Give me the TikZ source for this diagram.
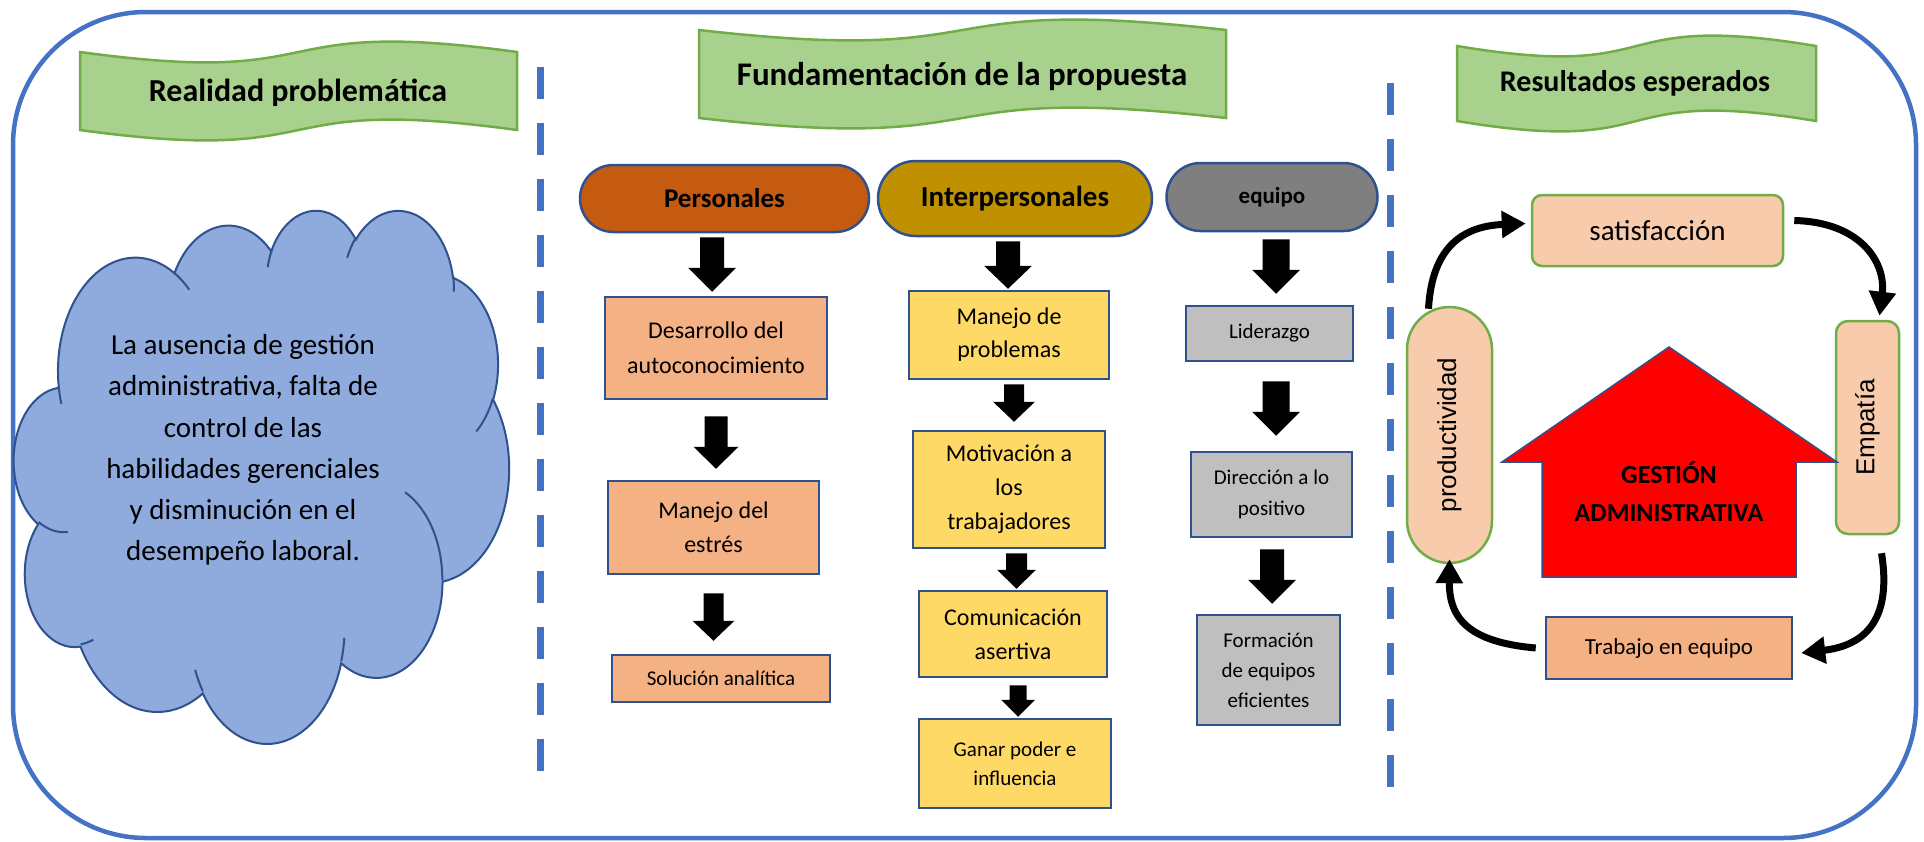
\documentclass[tikz,border=0pt]{standalone}
\usepackage{fontspec}
\usepackage{graphicx}
\setmainfont{Carlito}
\newfontfamily\arialf{Liberation Sans}
\usetikzlibrary{arrows.meta,calc}
\definecolor{frameblue}{HTML}{4472C4}
\definecolor{dkblue}{HTML}{2F528F}
\definecolor{bannerfill}{HTML}{A9D18E}
\definecolor{bannerline}{HTML}{70AD47}
\definecolor{cloudfill}{HTML}{8FAADC}
\definecolor{persfill}{HTML}{C55A11}
\definecolor{interfill}{HTML}{BF9000}
\definecolor{equipofill}{HTML}{7F7F7F}
\definecolor{orangebox}{HTML}{F4B183}
\definecolor{yellowbox}{HTML}{FFD966}
\definecolor{greybox}{HTML}{BFBFBF}
\definecolor{peach}{HTML}{F8CBAD}
\newcommand\fs[2]{\fontsize{#1}{#2}\selectfont}
% Office-style elliptical arc: wR hR stAng swAng (path units /100, y downwards)
\newcommand\carc[4]{arc[start angle={-vang(#3,#1,#2)}, delta angle={-vdel(#3,#4,#1,#2)}, x radius={#1*\cx pt}, y radius={#2*\cy pt}]}
\newcommand\banner[4]{%
  \draw[bannersty] (#1,#3) .. controls ({#1+0.6*(#2-#1)},{#3+36}) and ({#1+0.4*(#2-#1)},{#3-36}) .. (#2,#3)
    -- (#2,#4) .. controls ({#1+0.4*(#2-#1)},{#4-36}) and ({#1+0.6*(#2-#1)},{#4+36}) .. (#1,#4) -- cycle;}
\newcommand\blockarr[5]{%
  \fill let \p1=#1, \p2=#2 in
    ({\x1-#3pt},\y1) -- ({\x1+#3pt},\y1) -- ({\x1+#3pt},{\y2+#5pt}) -- ({\x1+#4pt},{\y2+#5pt})
    -- (\x1,\y2) -- ({\x1-#4pt},{\y2+#5pt}) -- ({\x1-#3pt},{\y2+#5pt}) -- cycle;}
\begin{document}
\begin{tikzpicture}[x=1pt,y=-1pt,
  declare function={
    vang(\a,\w,\h)=atan2(\w*sin(\a),\h*cos(\a));
    vdel(\a,\s,\w,\h)=vang(\a+\s,\w,\h)-vang(\a,\w,\h)-360*round((vang(\a+\s,\w,\h)-vang(\a,\w,\h)-\s)/360);
  },
  bannersty/.style={draw=bannerline, fill=bannerfill, line width=2.5pt},
  titletext/.style={inner sep=0pt},
  box/.style={draw=dkblue, line width=2.5pt, inner sep=0pt, align=center},
  pill/.style={draw=dkblue, line width=2.5pt, inner sep=0pt, align=center},
  resbox/.style={draw=bannerline, fill=peach, line width=2.5pt, inner sep=0pt, align=center},
  sepline/.style={draw=frameblue, line width=7pt, dash pattern=on 32pt off 24pt},
  carrow/.style={line width=7pt, -{Triangle[length=24pt,width=26pt]}},
]
\path[use as bounding box] (0,0) rectangle (1924,841);
\draw[frameblue, line width=4.5pt, rounded corners=133pt] (13,12) rectangle (1916,838);

% separators
\draw[sepline] (540,67) -- (540,772);
\draw[sepline] (1390,83) -- (1390,790);

% title banners
\banner{80}{517}{52}{130}
\banner{699}{1226}{30}{118}
\banner{1457}{1816}{46}{121}
\node[titletext, font=\fs{32}{36}\bfseries] (t1) at (298,93) {Realidad problemática};
\node[titletext, font=\fs{33}{36}\bfseries] (t2) at (962,77) {Fundamentación de la propuesta};
\node[titletext, font=\fs{30}{36}\bfseries] (t3) at (1635,83) {Resultados esperados};

% cloud (Office cloud geometry)
\def\cx{1.1458}\def\cy{1.2338}
\begin{scope}[shift={(14,209)}, x=\cx pt, y=-\cy pt]
\draw[draw=dkblue, fill=cloudfill, line width=2pt] (39.00,143.70)
  \carc{67.53}{91.90}{-190.4875}{123.7805}
  \carc{53.33}{72.67}{-144.1024}{89.9452}
  \carc{43.65}{59.45}{-145.8079}{99.7230}
  \carc{48.57}{65.95}{-130.9861}{117.2417}
  \carc{53.33}{72.73}{-78.7089}{109.0269}
  \carc{67.75}{92.20}{-46.2673}{130.2690}
  \carc{57.85}{78.67}{0.6250}{114.0333}
  \carc{67.52}{92.15}{22.4516}{115.1726}
  \carc{77.20}{105.43}{66.2426}{75.7110}
  \carc{43.60}{59.18}{-274.9421}{146.7356}
  \carc{43.45}{59.45}{-246.8285}{152.5189} -- cycle;
\draw[draw=dkblue, line width=2pt]
  (46.93,261.77) \carc{43.45}{59.45}{86.7420}{26.4295}
  (69.28,348.99) \carc{43.60}{59.18}{73.6105}{11.4475}
  (164.78,390.90) \carc{67.52}{92.15}{137.6242}{14.0811}
  (288.27,347.51) \carc{67.52}{92.15}{6.4533}{15.9984}
  (341.29,229.54) \carc{57.85}{78.67}{-70.2924}{70.9174}
  (417.98,153.54) \carc{53.33}{72.73}{30.3180}{27.7515}
  (383.24,54.26) \carc{48.57}{65.95}{-13.7443}{14.8589}
  (290.78,39.52) \carc{48.57}{65.95}{-149.1815}{18.1954}
  (221.41,47.20) \carc{43.65}{59.45}{-163.4943}{17.6864}
  (140.00,51.92) \carc{67.53}{91.90}{-66.7070}{12.3194}
  (41.27,157.89) \carc{67.53}{91.90}{157.6544}{11.8582};
\end{scope}
\node[font=\fs{29}{41.3}, align=center] (cloudtxt) at (243,450)
  {La ausencia de gestión\\administrativa, falta de\\control de las\\habilidades gerenciales\\y disminución en el\\desempeño laboral.};

% column headers
\node[pill, fill=persfill, minimum width=289pt, minimum height=67pt, rounded corners=33.5pt, font=\fs{27}{30}\bfseries] (pers) at (724.5,198.5) {Personales};
\node[pill, fill=interfill, minimum width=274pt, minimum height=75pt, rounded corners=37.5pt, font=\fs{29}{32}\bfseries] (inter) at (1015,198.5) {Interpersonales};
\node[pill, fill=equipofill, minimum width=211pt, minimum height=68pt, rounded corners=34pt, font=\fs{23}{26}\bfseries] (equ) at (1272,197) {equipo};

% Personales column
\node[box, fill=orangebox, minimum width=222pt, minimum height=102pt, font=\fs{24}{35}] (desa) at (716,348) {Desarrollo del\\autoconocimiento};
\node[box, fill=orangebox, minimum width=211pt, minimum height=93pt, font=\fs{24}{34}] (mane) at (713.5,527.5) {Manejo del\\estrés};
\node[box, fill=orangebox, minimum width=218pt, minimum height=47pt, font=\fs{21}{25}] (sol) at (721,678.5) {Solución analítica};

% Interpersonales column
\node[box, fill=yellowbox, minimum width=200pt, minimum height=88pt, font=\fs{24}{33}] (mp) at (1009,335) {Manejo de\\problemas};
\node[box, fill=yellowbox, minimum width=192pt, minimum height=117pt, font=\fs{24}{34}] (mot) at (1009,489.5) {Motivación a\\los\\trabajadores};
\node[box, fill=yellowbox, minimum width=188pt, minimum height=86pt, font=\fs{24}{34}] (com) at (1013,634) {Comunicación\\asertiva};
\node[box, fill=yellowbox, minimum width=192pt, minimum height=89pt, font=\fs{21}{29}] (gan) at (1015,763.5) {Ganar poder e\\influencia};

% equipo column
\node[box, fill=greybox, minimum width=167pt, minimum height=55pt, font=\fs{21}{25}] (lid) at (1269.5,333.5) {Liderazgo};
\node[box, fill=greybox, minimum width=161pt, minimum height=85pt, font=\fs{21}{31}] (dir) at (1271.5,494.5) {Dirección a lo\\positivo};
\node[box, fill=greybox, minimum width=143pt, minimum height=110pt, font=\fs{21}{30}] (form) at (1268.5,670) {Formación\\de equipos\\eficientes};

% block arrows
\blockarr{($(pers.south)+(-12.5,4)$)}{($(desa.north)+(0,-4)$)}{12}{24}{24}
\blockarr{($(desa.south)+(0,16)$)}{($(mane.north)+(0,-11)$)}{11.5}{22.5}{22}
\blockarr{($(mane.south)+(0,18)$)}{($(sol.north)+(0,-13)$)}{10}{21}{20}
\blockarr{($(inter.south)+(-7,4)$)}{($(mp.north)+(0,-1)$)}{12}{24}{23}
\blockarr{($(mp.south)+(5,4)$)}{($(mot.north)+(0,-8)$)}{10}{21}{20}
\blockarr{($(mot.south)+(7.5,4)$)}{($(com.north)+(0,-1)$)}{10.5}{19.5}{19}
\blockarr{($(com.south)+(5,7)$)}{($(gan.north)+(0,-1)$)}{8.5}{17}{17}
\blockarr{($(equ.south)+(4,7)$)}{($(lid.north)+(0,-11)$)}{13.5}{24}{24}
\blockarr{($(lid.south)+(6.5,19)$)}{($(dir.north)+(0,-15)$)}{13.5}{24}{24}
\blockarr{($(dir.south)+(0.5,11)$)}{($(form.north)+(0,-10)$)}{12}{24}{24}

% results section
\node[resbox, minimum width=251pt, minimum height=71pt, rounded corners=10pt, font=\fs{29}{32}] (satis) at (1657.5,230.5) {satisfacción};
\node[resbox, minimum width=85pt, minimum height=256pt, rounded corners=42.5pt, font=\arialf\fs{26}{30}] (prod) at (1449.5,435) {\rotatebox{90}{productividad}};
\node[resbox, minimum width=63pt, minimum height=213pt, rounded corners=12pt, font=\arialf\fs{26}{30}] (emp) at (1867.5,427.5) {\rotatebox{90}{Empatía}};
\node[box, fill=orangebox, minimum width=246pt, minimum height=62pt, font=\fs{23}{27}] (trab) at (1669,648) {Trabajo en equipo};

\draw[draw=dkblue, fill=red, line width=1.5pt] (1669,347) -- (1837,462) -- (1796,462) -- (1796,577)
  -- (1542,577) -- (1542,462) -- (1502,462) -- cycle;
\node[font=\fs{26}{38}\bfseries, align=center] (ga) at (1669,492) {GESTIÓN\\ADMINISTRATIVA};

\draw[carrow] ([shift={(-21,3)}]prod.north) .. controls (1432,245) and (1465,226) .. ([shift={(-5,-7)}]satis.west);
\draw[carrow] ([shift={(10,-10)}]satis.east) .. controls (1860,222) and (1886,262) .. ([shift={(12,-4)}]emp.north);
\draw[carrow] ([shift={(14,18)}]emp.south) .. controls (1893,625) and (1860,646) .. ([shift={(8,5)}]trab.east);
\draw[carrow] ([xshift=-9pt]trab.west) .. controls (1468,642) and (1449,618) .. ([yshift=5pt]prod.south);
\end{tikzpicture}
\end{document}
